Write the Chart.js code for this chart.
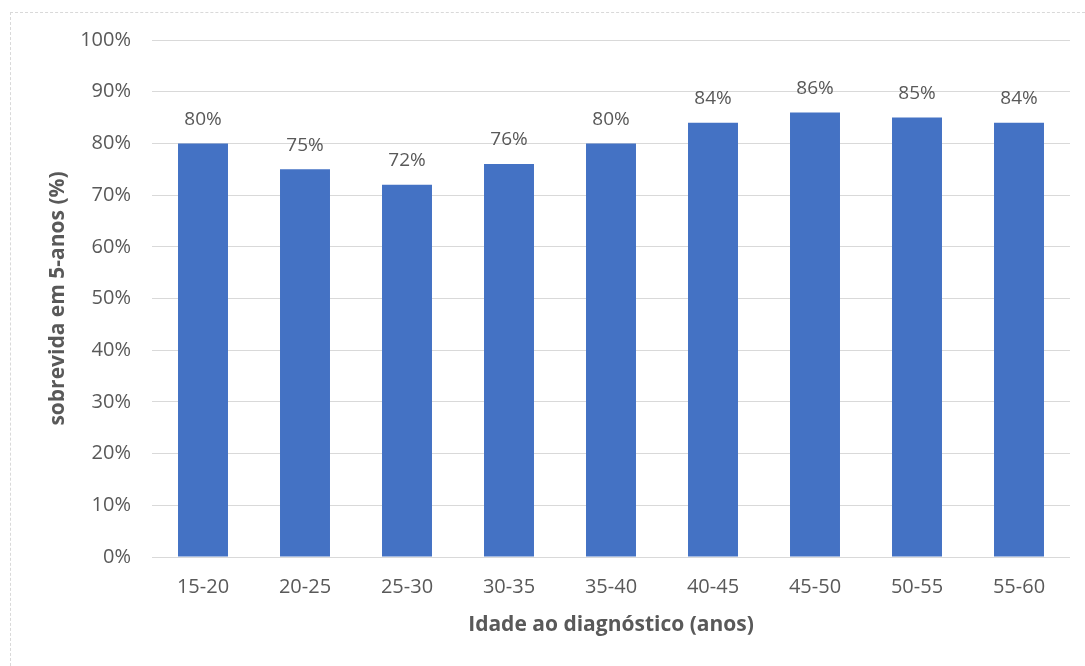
<!DOCTYPE html>
<html>
<head>
<meta charset="utf-8">
<script src="https://cdn.jsdelivr.net/npm/chart.js@4"></script>
<style>
  html, body { margin: 0; padding: 0; background: #fff; }
  #wrap { position: relative; width: 1085px; height: 666px; }
  #frame { position: absolute; left: 10px; top: 12px; right: -5px; bottom: -5px;
           border-left: 1px dashed #d9d9d9; border-top: 1px dashed #d9d9d9; }
  canvas { position: absolute; left: 0; top: 0; }
</style>
</head>
<body>
<div id="wrap">
  <div id="frame"></div>
  <canvas id="chart" width="1085" height="666"></canvas>
</div>
<script>
/* age groups at diagnosis and 5-year survival (%) */
const AGE_GROUPS = ["15-20", "20-25", "25-30", "30-35", "35-40", "40-45", "45-50", "50-55", "55-60"];
const SURVIVAL = [80, 75, 72, 76, 80, 84, 86, 85, 84];
const Y_TICKS = [0, 10, 20, 30, 40, 50, 60, 70, 80, 90, 100];

const TEXT = "#595959";
const FONT = "'Open Sans', 'Noto Sans', sans-serif";

// value labels above each bar
const barLabels = {
  id: "barLabels",
  afterDatasetsDraw(chart) {
    const { ctx } = chart;
    const meta = chart.getDatasetMeta(0);
    ctx.save();
    ctx.font = "19px " + FONT;
    ctx.fillStyle = TEXT;
    ctx.textAlign = "center";
    ctx.textBaseline = "middle";
    meta.data.forEach((bar, i) => {
      ctx.fillText(SURVIVAL[i] + "%", bar.x, bar.y - 24);
    });
    ctx.restore();
  }
};

new Chart(document.getElementById("chart"), {
  type: "bar",
  data: {
    labels: AGE_GROUPS,
    datasets: [{
      data: SURVIVAL,
      backgroundColor: "#4472C4",
      borderWidth: 0,
      barPercentage: 0.49,
      categoryPercentage: 1
    }]
  },
  options: {
    responsive: false,
    animation: false,
    layout: { padding: { left: 40, top: 40, right: 15, bottom: 0 } },
    plugins: { legend: { display: false }, tooltip: { enabled: false } },
    scales: {
      x: {
        grid: { display: false, drawTicks: false },
        border: { display: false },
        ticks: { color: TEXT, font: { family: FONT, size: 20 }, padding: 18 },
        title: {
          display: true, text: "Idade ao diagnóstico (anos)", color: TEXT,
          font: { family: FONT, size: 21, weight: "bold" },
          padding: { top: 0, bottom: 28 }
        },
        afterFit(s) { s.height = 109; }
      },
      y: {
        min: 0, max: 100,
        afterBuildTicks(s) { s.ticks = Y_TICKS.map(v => ({ value: v })); },
        grid: { color: "#d9d9d9", drawTicks: false },
        border: { display: false },
        ticks: { color: TEXT, font: { family: FONT, size: 20 }, padding: 21, callback: v => v + "%" },
        title: {
          display: true, text: "sobrevida em 5-anos (%)", color: TEXT,
          font: { family: FONT, size: 21, weight: "bold" },
          padding: { top: 5, bottom: 0 }
        },
        afterFit(s) { s.width = 112; }
      }
    }
  },
  plugins: [barLabels]
});
</script>
</body>
</html>
